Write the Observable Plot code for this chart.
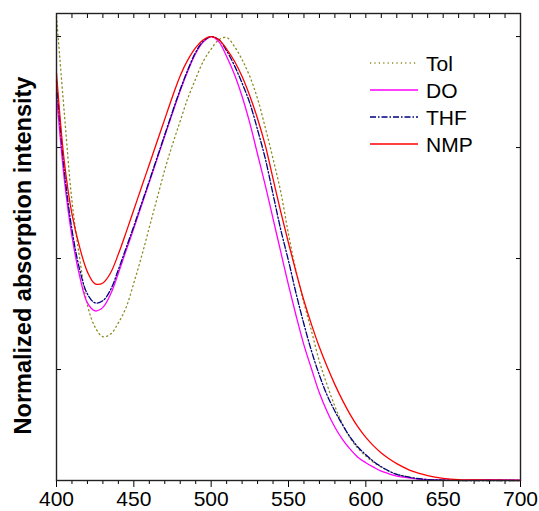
<!DOCTYPE html>
<html>
<head>
<meta charset="utf-8">
<script src="https://cdn.jsdelivr.net/npm/d3@7"></script>
<script src="https://cdn.jsdelivr.net/npm/@observablehq/plot@0.6"></script>
<style>
  html, body { margin: 0; padding: 0; background: #fff; }
  #wrap { position: relative; width: 539px; height: 511px; font-family: "Liberation Sans", Arial, sans-serif; }
  #legend { position: absolute; left: 366px; top: 48px; }
</style>
</head>
<body>
<div id="wrap"><div id="chart"></div><svg id="legend" width="120" height="112"></svg></div>
<script>
const wavelength = [400,405,410,415,420,425,430,435,440,445,450,455,460,465,470,475,480,485,490,495,500,505,510,515,520,525,530,535,540,545,550,555,560,565,570,575,580,585,590,595,600,605,610,615,620,630,640,650,660,680,700];
const tol = [1.045,0.83,0.63,0.50,0.395,0.345,0.324,0.33,0.355,0.39,0.445,0.505,0.57,0.635,0.70,0.757,0.81,0.862,0.905,0.945,0.972,0.993,0.998,0.978,0.948,0.91,0.86,0.795,0.725,0.65,0.555,0.47,0.40,0.335,0.268,0.215,0.167,0.127,0.095,0.072,0.055,0.041,0.03,0.021,0.014,0.006,0.002,0.001,0,0,0];
const dio = [0.87,0.68,0.55,0.46,0.40,0.382,0.39,0.42,0.467,0.518,0.568,0.62,0.672,0.724,0.776,0.828,0.878,0.923,0.962,0.988,1.0,0.988,0.955,0.915,0.865,0.805,0.735,0.665,0.59,0.515,0.44,0.37,0.305,0.25,0.197,0.155,0.12,0.092,0.07,0.052,0.04,0.03,0.021,0.015,0.01,0.005,0.002,0.001,0.001,0.002,0.001];
const thf = [0.90,0.70,0.565,0.475,0.42,0.40,0.405,0.43,0.475,0.524,0.573,0.624,0.675,0.727,0.779,0.831,0.881,0.926,0.965,0.99,1.0,0.993,0.968,0.935,0.895,0.85,0.79,0.725,0.645,0.565,0.495,0.42,0.352,0.29,0.237,0.192,0.156,0.125,0.097,0.075,0.058,0.043,0.031,0.021,0.014,0.006,0.002,0.001,0,0,0];
const nmp = [0.918,0.72,0.60,0.525,0.47,0.443,0.445,0.468,0.51,0.559,0.61,0.661,0.712,0.763,0.814,0.865,0.912,0.948,0.975,0.993,1.0,0.993,0.972,0.945,0.91,0.866,0.815,0.755,0.68,0.605,0.535,0.468,0.405,0.35,0.30,0.256,0.216,0.18,0.148,0.12,0.097,0.078,0.062,0.049,0.038,0.021,0.011,0.005,0.002,0.001,0];

const seriesNames = ["Tol", "DO", "THF", "NMP"];
const seriesValues = [tol, dio, thf, nmp];
const seriesColors = ["#8a8a20", "#ff00ff", "#000080", "#ff0000"];
const seriesDash = ["1.2,3.2", null, "6,2,1.5,2", null];

const xMajor = [400,450,500,550,600,650,700];
const xMinor = d3.range(400, 701, 10).filter(v => v % 50 !== 0);
const xAll = d3.range(400, 701, 10);
const yTicks = [0.25, 0.5, 0.75, 1.0];
const yLabel = "Normalized absorption intensity";

const rows = [];
seriesNames.forEach((name, i) => {
  wavelength.forEach((w, j) => rows.push({series: name, w, v: seriesValues[i][j]}));
});

const lineMarks = seriesNames.map((name, i) =>
  Plot.line(rows.filter(r => r.series === name), {
    x: "w", y: "v", stroke: seriesColors[i], strokeWidth: 1.3,
    strokeDasharray: seriesDash[i] || undefined, curve: "catmull-rom"
  })
);

const chart = Plot.plot({
  width: 539,
  height: 511,
  marginLeft: 56,
  marginRight: 19,
  marginTop: 13,
  marginBottom: 31,
  style: {fontFamily: "'Liberation Sans', Arial, sans-serif", fontSize: "21px", color: "#000", background: "#fff"},
  x: {domain: [400, 700]},
  y: {domain: [0, 1.052]},
  marks: [
    Plot.axisX(xMajor, {anchor: "bottom", tickSize: 7, tickPadding: 4, tickFormat: d => String(d), label: null, fontSize: 21}),
    Plot.axisX(xMinor, {anchor: "bottom", tickSize: 4, tickFormat: () => "", label: null}),
    Plot.axisX(xAll, {anchor: "top", tickSize: -4, tickFormat: () => "", label: null}),
    Plot.axisY(yTicks, {anchor: "left", tickSize: -5, tickFormat: () => "", label: null}),
    Plot.axisY(yTicks, {anchor: "right", tickSize: -5, tickFormat: () => "", label: null}),
    Plot.text([yLabel], {frameAnchor: "left", text: d => d, rotate: -90, textAnchor: "middle", dx: -33, dy: 8.5, fontSize: 23.5, fontWeight: "bold"}),
    ...lineMarks,
    Plot.frame({stroke: "#222", strokeWidth: 1.4})
  ]
});
document.getElementById("chart").appendChild(chart);

// legend
const leg = d3.select("#legend");
seriesNames.forEach((name, i) => {
  const cy = 15 + i * 27;
  leg.append("line").attr("x1", 4).attr("x2", 52).attr("y1", cy).attr("y2", cy)
    .attr("stroke", seriesColors[i]).attr("stroke-width", 1.3)
    .attr("stroke-dasharray", seriesDash[i]);
  leg.append("text").attr("x", 60).attr("y", cy).attr("dy", "0.36em")
    .attr("font-size", 21).attr("fill", "#000")
    .attr("font-family", "'Liberation Sans', Arial, sans-serif").text(name);
});
</script>
</body>
</html>
